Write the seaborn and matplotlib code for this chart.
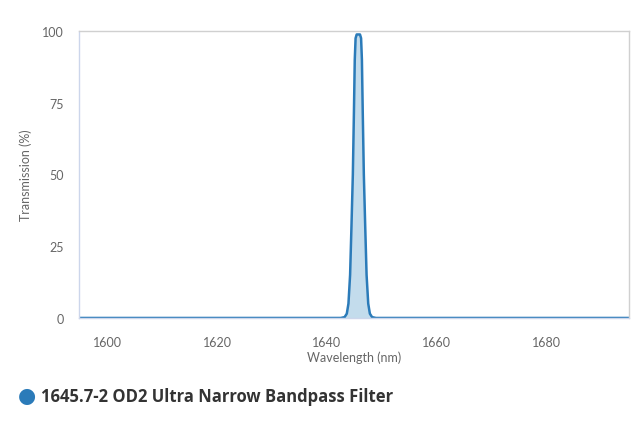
import numpy as np
import pandas as pd
import seaborn as sns
import matplotlib.pyplot as plt

# filter curve (nm, %)
wavelength = [1595.0, 1642.5, 1643.2, 1643.6, 1643.9, 1644.2, 1644.45, 1644.7,
              1644.9, 1645.05, 1645.2, 1645.4, 1646.0, 1646.2, 1646.35, 1646.5,
              1646.7, 1646.95, 1647.2, 1647.5, 1647.8, 1648.2, 1648.9, 1695.0]
transmission = [0.0, 0.0, 0.3, 1.5, 5.0, 15.0, 32.0, 50.0,
                72.0, 90.0, 97.5, 98.8, 98.8, 97.5, 90.0, 72.0,
                50.0, 32.0, 15.0, 5.0, 1.5, 0.3, 0.0, 0.0]
x_ticks = [1600, 1620, 1640, 1660, 1680]
y_ticks = [0, 25, 50, 75, 100]
series_name = "1645.7-2 OD2 Ultra Narrow Bandpass Filter"

df = pd.DataFrame({"wavelength": wavelength, "transmission": transmission})

sns.set_style("white")
plt.rcParams['font.family'] = ['Lato', 'DejaVu Sans']

line_color = "#2b7bb9"
axis_color = "#ccd6eb"
text_color = "#666666"

fig = plt.figure(figsize=(6.4, 4.27), dpi=100)
ax = fig.add_axes([0.1234, 0.253, 0.8597, 0.672])

ax.fill_between(df["wavelength"], df["transmission"], 0, color="#c3dcec", lw=0)
sns.lineplot(data=df, x="wavelength", y="transmission", ax=ax,
             color=line_color, linewidth=1.8)

ax.set_xlim(1594.85, 1695.0)
ax.set_ylim(0, 100)
ax.set_xticks(x_ticks)
ax.set_yticks(y_ticks)
ax.tick_params(axis="both", colors=axis_color, labelcolor=text_color,
               labelsize=9, length=7, width=1, direction="out")
ax.tick_params(axis="x", pad=6)
ax.tick_params(axis="y", pad=4)

# plot border
for side in ["top", "right"]:
    ax.spines[side].set_color("#d0d0d0")
ax.spines["left"].set_color(axis_color)
ax.spines["bottom"].set_color(axis_color)
for s in ax.spines.values():
    s.set_linewidth(1)

ax.set_xlabel("Wavelength (nm)", color=text_color, fontsize=9, labelpad=2)
ax.set_ylabel("Transmission (%)", color=text_color, fontsize=9, labelpad=7)

# legend below the chart
fig.text(0.042, 0.073, "\u25CF", color=line_color, fontsize=15,
         ha="center", va="center", family=['DejaVu Sans'])
fig.text(0.064, 0.071, series_name, color="#333333", fontsize=12.0,
         fontweight="bold", ha="left", va="center", family=['Open Sans', 'DejaVu Sans'])

fig.savefig("out.png", dpi=100)
